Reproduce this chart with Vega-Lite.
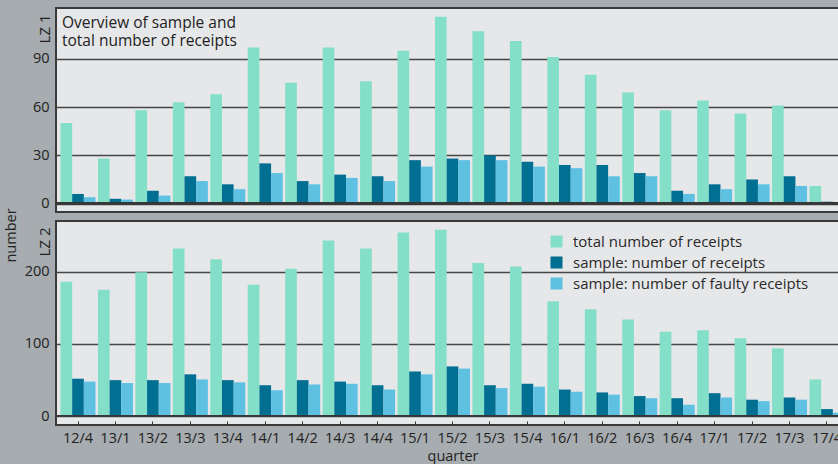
{
  "$schema": "https://vega.github.io/schema/vega-lite/v6.json",
  "background": "#a6acaf",
  "padding": {"left": 3, "top": 7, "right": 0, "bottom": 0},
  "title": {"text": "number", "orient": "left", "anchor": "middle", "fontSize": 14.5, "fontWeight": "normal", "color": "#222222", "offset": 4, "font": "Open Sans"},
  "config": {
    "font": "Open Sans",
    "view": {"fill": "#e6e7e9", "stroke": "#3a3a3a", "strokeWidth": 2},
    "axisY": {"labelFontSize": 14.5, "labelColor": "#222222", "ticks": false, "tickSize": 0, "domain": false, "grid": true, "gridColor": "#464646", "gridWidth": 1.7, "labelPadding": 7, "titleX": -4, "titleY": 6, "titleAngle": 270, "titleAlign": "right", "titleBaseline": "bottom", "titleFontSize": 15, "titleFontWeight": "normal", "titleColor": "#222222"},
    "axisX": {"labelFontSize": 14.5, "labelColor": "#222222", "domain": false, "grid": false, "tickColor": "#333333", "tickSize": -4, "labelPadding": 10, "labelAngle": 0, "titleFontSize": 14.5, "titleFontWeight": "normal", "titleColor": "#222222", "titlePadding": 5}
  },
  "data": {"values": [
    {"p":1,"q":"12/4","s":"total number of receipts","v":50},{"p":1,"q":"12/4","s":"sample: number of receipts","v":6},{"p":1,"q":"12/4","s":"sample: number of faulty receipts","v":4},
    {"p":1,"q":"13/1","s":"total number of receipts","v":28},{"p":1,"q":"13/1","s":"sample: number of receipts","v":3},{"p":1,"q":"13/1","s":"sample: number of faulty receipts","v":2.5},
    {"p":1,"q":"13/2","s":"total number of receipts","v":58},{"p":1,"q":"13/2","s":"sample: number of receipts","v":8},{"p":1,"q":"13/2","s":"sample: number of faulty receipts","v":5},
    {"p":1,"q":"13/3","s":"total number of receipts","v":63},{"p":1,"q":"13/3","s":"sample: number of receipts","v":17},{"p":1,"q":"13/3","s":"sample: number of faulty receipts","v":14},
    {"p":1,"q":"13/4","s":"total number of receipts","v":68},{"p":1,"q":"13/4","s":"sample: number of receipts","v":12},{"p":1,"q":"13/4","s":"sample: number of faulty receipts","v":9},
    {"p":1,"q":"14/1","s":"total number of receipts","v":97},{"p":1,"q":"14/1","s":"sample: number of receipts","v":25},{"p":1,"q":"14/1","s":"sample: number of faulty receipts","v":19},
    {"p":1,"q":"14/2","s":"total number of receipts","v":75},{"p":1,"q":"14/2","s":"sample: number of receipts","v":14},{"p":1,"q":"14/2","s":"sample: number of faulty receipts","v":12},
    {"p":1,"q":"14/3","s":"total number of receipts","v":97},{"p":1,"q":"14/3","s":"sample: number of receipts","v":18},{"p":1,"q":"14/3","s":"sample: number of faulty receipts","v":16},
    {"p":1,"q":"14/4","s":"total number of receipts","v":76},{"p":1,"q":"14/4","s":"sample: number of receipts","v":17},{"p":1,"q":"14/4","s":"sample: number of faulty receipts","v":14},
    {"p":1,"q":"15/1","s":"total number of receipts","v":95},{"p":1,"q":"15/1","s":"sample: number of receipts","v":27},{"p":1,"q":"15/1","s":"sample: number of faulty receipts","v":23},
    {"p":1,"q":"15/2","s":"total number of receipts","v":116},{"p":1,"q":"15/2","s":"sample: number of receipts","v":28},{"p":1,"q":"15/2","s":"sample: number of faulty receipts","v":27},
    {"p":1,"q":"15/3","s":"total number of receipts","v":107},{"p":1,"q":"15/3","s":"sample: number of receipts","v":30},{"p":1,"q":"15/3","s":"sample: number of faulty receipts","v":27},
    {"p":1,"q":"15/4","s":"total number of receipts","v":101},{"p":1,"q":"15/4","s":"sample: number of receipts","v":26},{"p":1,"q":"15/4","s":"sample: number of faulty receipts","v":23},
    {"p":1,"q":"16/1","s":"total number of receipts","v":91},{"p":1,"q":"16/1","s":"sample: number of receipts","v":24},{"p":1,"q":"16/1","s":"sample: number of faulty receipts","v":22},
    {"p":1,"q":"16/2","s":"total number of receipts","v":80},{"p":1,"q":"16/2","s":"sample: number of receipts","v":24},{"p":1,"q":"16/2","s":"sample: number of faulty receipts","v":17},
    {"p":1,"q":"16/3","s":"total number of receipts","v":69},{"p":1,"q":"16/3","s":"sample: number of receipts","v":19},{"p":1,"q":"16/3","s":"sample: number of faulty receipts","v":17},
    {"p":1,"q":"16/4","s":"total number of receipts","v":58},{"p":1,"q":"16/4","s":"sample: number of receipts","v":8},{"p":1,"q":"16/4","s":"sample: number of faulty receipts","v":6},
    {"p":1,"q":"17/1","s":"total number of receipts","v":64},{"p":1,"q":"17/1","s":"sample: number of receipts","v":12},{"p":1,"q":"17/1","s":"sample: number of faulty receipts","v":9},
    {"p":1,"q":"17/2","s":"total number of receipts","v":56},{"p":1,"q":"17/2","s":"sample: number of receipts","v":15},{"p":1,"q":"17/2","s":"sample: number of faulty receipts","v":12},
    {"p":1,"q":"17/3","s":"total number of receipts","v":61},{"p":1,"q":"17/3","s":"sample: number of receipts","v":17},{"p":1,"q":"17/3","s":"sample: number of faulty receipts","v":11},
    {"p":1,"q":"17/4","s":"total number of receipts","v":11},{"p":1,"q":"17/4","s":"sample: number of receipts","v":1.2},{"p":1,"q":"17/4","s":"sample: number of faulty receipts","v":0.4},
    {"p":2,"q":"12/4","s":"total number of receipts","v":186},{"p":2,"q":"12/4","s":"sample: number of receipts","v":52},{"p":2,"q":"12/4","s":"sample: number of faulty receipts","v":48},
    {"p":2,"q":"13/1","s":"total number of receipts","v":175},{"p":2,"q":"13/1","s":"sample: number of receipts","v":50},{"p":2,"q":"13/1","s":"sample: number of faulty receipts","v":46},
    {"p":2,"q":"13/2","s":"total number of receipts","v":199},{"p":2,"q":"13/2","s":"sample: number of receipts","v":50},{"p":2,"q":"13/2","s":"sample: number of faulty receipts","v":46},
    {"p":2,"q":"13/3","s":"total number of receipts","v":232},{"p":2,"q":"13/3","s":"sample: number of receipts","v":58},{"p":2,"q":"13/3","s":"sample: number of faulty receipts","v":51},
    {"p":2,"q":"13/4","s":"total number of receipts","v":217},{"p":2,"q":"13/4","s":"sample: number of receipts","v":50},{"p":2,"q":"13/4","s":"sample: number of faulty receipts","v":47},
    {"p":2,"q":"14/1","s":"total number of receipts","v":182},{"p":2,"q":"14/1","s":"sample: number of receipts","v":43},{"p":2,"q":"14/1","s":"sample: number of faulty receipts","v":36},
    {"p":2,"q":"14/2","s":"total number of receipts","v":204},{"p":2,"q":"14/2","s":"sample: number of receipts","v":50},{"p":2,"q":"14/2","s":"sample: number of faulty receipts","v":44},
    {"p":2,"q":"14/3","s":"total number of receipts","v":243},{"p":2,"q":"14/3","s":"sample: number of receipts","v":48},{"p":2,"q":"14/3","s":"sample: number of faulty receipts","v":45},
    {"p":2,"q":"14/4","s":"total number of receipts","v":232},{"p":2,"q":"14/4","s":"sample: number of receipts","v":43},{"p":2,"q":"14/4","s":"sample: number of faulty receipts","v":37},
    {"p":2,"q":"15/1","s":"total number of receipts","v":254},{"p":2,"q":"15/1","s":"sample: number of receipts","v":62},{"p":2,"q":"15/1","s":"sample: number of faulty receipts","v":58},
    {"p":2,"q":"15/2","s":"total number of receipts","v":258},{"p":2,"q":"15/2","s":"sample: number of receipts","v":69},{"p":2,"q":"15/2","s":"sample: number of faulty receipts","v":66},
    {"p":2,"q":"15/3","s":"total number of receipts","v":212},{"p":2,"q":"15/3","s":"sample: number of receipts","v":43},{"p":2,"q":"15/3","s":"sample: number of faulty receipts","v":39},
    {"p":2,"q":"15/4","s":"total number of receipts","v":207},{"p":2,"q":"15/4","s":"sample: number of receipts","v":45},{"p":2,"q":"15/4","s":"sample: number of faulty receipts","v":41},
    {"p":2,"q":"16/1","s":"total number of receipts","v":159},{"p":2,"q":"16/1","s":"sample: number of receipts","v":37},{"p":2,"q":"16/1","s":"sample: number of faulty receipts","v":34},
    {"p":2,"q":"16/2","s":"total number of receipts","v":148},{"p":2,"q":"16/2","s":"sample: number of receipts","v":33},{"p":2,"q":"16/2","s":"sample: number of faulty receipts","v":30},
    {"p":2,"q":"16/3","s":"total number of receipts","v":134},{"p":2,"q":"16/3","s":"sample: number of receipts","v":28},{"p":2,"q":"16/3","s":"sample: number of faulty receipts","v":25},
    {"p":2,"q":"16/4","s":"total number of receipts","v":117},{"p":2,"q":"16/4","s":"sample: number of receipts","v":25},{"p":2,"q":"16/4","s":"sample: number of faulty receipts","v":16},
    {"p":2,"q":"17/1","s":"total number of receipts","v":119},{"p":2,"q":"17/1","s":"sample: number of receipts","v":32},{"p":2,"q":"17/1","s":"sample: number of faulty receipts","v":26},
    {"p":2,"q":"17/2","s":"total number of receipts","v":108},{"p":2,"q":"17/2","s":"sample: number of receipts","v":23},{"p":2,"q":"17/2","s":"sample: number of faulty receipts","v":21},
    {"p":2,"q":"17/3","s":"total number of receipts","v":94},{"p":2,"q":"17/3","s":"sample: number of receipts","v":26},{"p":2,"q":"17/3","s":"sample: number of faulty receipts","v":23},
    {"p":2,"q":"17/4","s":"total number of receipts","v":51},{"p":2,"q":"17/4","s":"sample: number of receipts","v":10},{"p":2,"q":"17/4","s":"sample: number of faulty receipts","v":5}
  ]},
  "spacing": 7,
  "resolve": {"legend": {"color": "independent"}},
  "vconcat": [
    {
      "width": 793, "height": 204,
      "title": {"text": ["Overview of sample and", "total number of receipts"], "orient": "top", "anchor": "start", "frame": "group", "offset": -41, "dx": 6, "baseline": "top", "fontSize": 15.5, "fontWeight": "normal", "color": "#222222", "lineHeight": 18, "font": "Open Sans"},
      "transform": [{"filter": "datum.p == 1"}],
      "layer": [
        {
          "mark": {"type": "bar"},
          "encoding": {
            "x": {"field": "q", "type": "nominal", "sort": null, "scale": {"paddingInner": 0.065, "paddingOuter": 0.12}, "axis": null},
            "xOffset": {"field": "s", "type": "nominal", "sort": ["total number of receipts", "sample: number of receipts", "sample: number of faulty receipts"], "scale": {"paddingInner": 0, "paddingOuter": 0}},
            "y": {"field": "v", "type": "quantitative", "scale": {"domain": [-5.2, 121.5], "nice": false, "zero": false}, "axis": {"values": [0, 30, 60, 90], "title": "LZ 1"}},
            "color": {"field": "s", "type": "nominal", "sort": ["total number of receipts", "sample: number of receipts", "sample: number of faulty receipts"], "scale": {"domain": ["total number of receipts", "sample: number of receipts", "sample: number of faulty receipts"], "range": ["#84dfc8", "#006f91", "#5ec1e2"]}, "legend": null}
          }
        },
        {"mark": {"type": "rule", "color": "#3a3a3a", "strokeWidth": 1.6, "opacity": 0.6}, "encoding": {"y": {"datum": 0}}}
      ]
    },
    {
      "width": 793, "height": 204,
      "transform": [{"filter": "datum.p == 2"}],
      "layer": [
        {
          "mark": {"type": "bar"},
          "encoding": {
            "x": {"field": "q", "type": "nominal", "sort": null, "scale": {"paddingInner": 0.065, "paddingOuter": 0.12}, "axis": {"title": "quarter"}},
            "xOffset": {"field": "s", "type": "nominal", "sort": ["total number of receipts", "sample: number of receipts", "sample: number of faulty receipts"], "scale": {"paddingInner": 0, "paddingOuter": 0}},
            "y": {"field": "v", "type": "quantitative", "scale": {"domain": [-12, 270], "nice": false, "zero": false}, "axis": {"values": [0, 100, 200], "title": "LZ 2"}},
            "color": {"field": "s", "type": "nominal", "sort": ["total number of receipts", "sample: number of receipts", "sample: number of faulty receipts"], "scale": {"domain": ["total number of receipts", "sample: number of receipts", "sample: number of faulty receipts"], "range": ["#84dfc8", "#006f91", "#5ec1e2"]},
              "legend": {"orient": "none", "legendX": 493, "legendY": 13, "title": null, "symbolType": "square", "symbolSize": 144, "symbolStrokeWidth": 0, "labelFontSize": 15, "labelColor": "#2a2a2a", "rowPadding": 5, "padding": 0, "labelOffset": 9, "labelLimit": 400}}
          }
        },
        {"mark": {"type": "rule", "color": "#3a3a3a", "strokeWidth": 1.6, "opacity": 0.6}, "encoding": {"y": {"datum": 0}}}
      ]
    }
  ]
}
